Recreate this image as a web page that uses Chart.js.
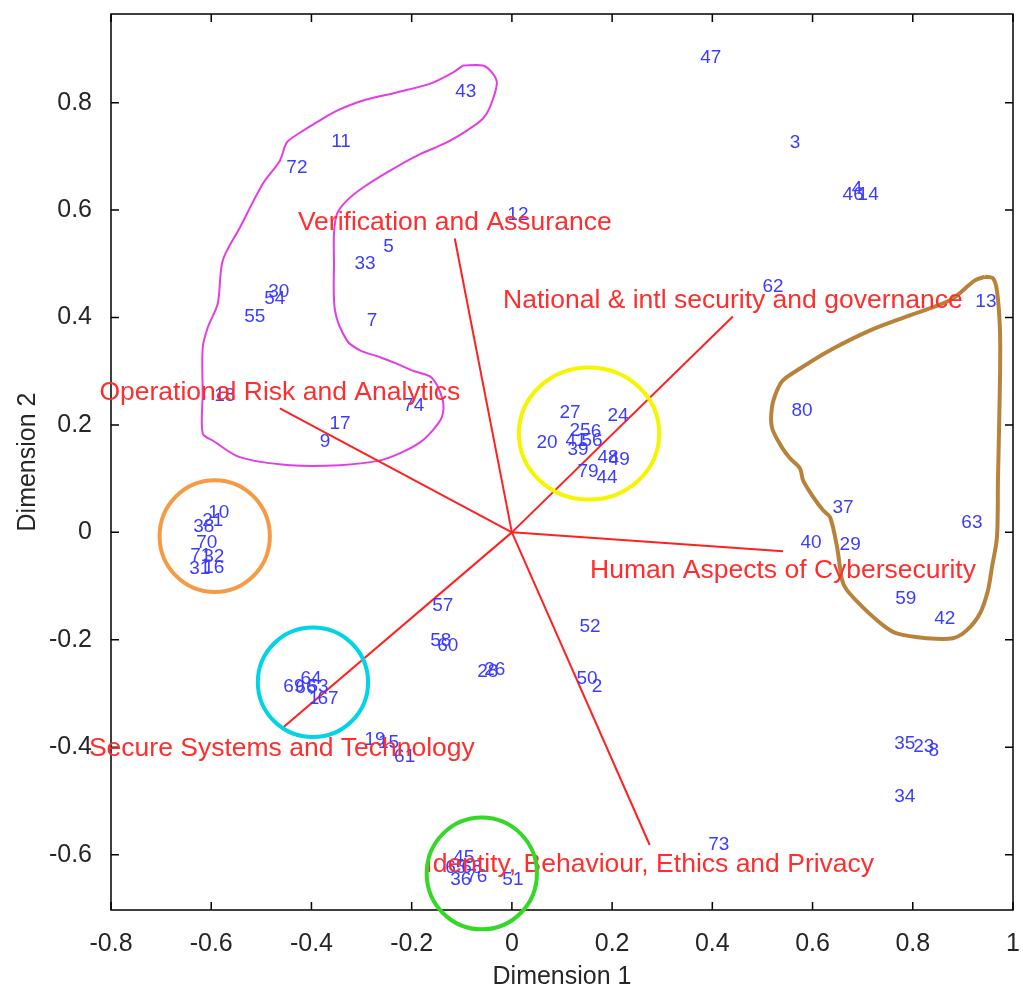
<!DOCTYPE html>
<html>
<head>
<meta charset="utf-8">
<script src="https://cdn.jsdelivr.net/npm/chart.js@4.4.1/dist/chart.umd.min.js"></script>
<style>
  html, body { margin: 0; padding: 0; background: #fff; }
  canvas { display: block; }
</style>
</head>
<body>
<canvas id="biplot" width="1023" height="992"></canvas>
<script>
// Observation scores (label, dimension 1, dimension 2)
const obsLabels = [
  "47", "3", "4", "46", "14",
  "43", "11", "72", "12", "5",
  "33", "62", "13", "30", "54",
  "55", "7", "18", "74", "17",
  "9", "27", "24", "20", "25",
  "6", "41", "56", "39", "48",
  "49", "79", "44", "10", "21",
  "38", "70", "71", "32", "31",
  "16", "80", "37", "63", "40",
  "29", "59", "42", "57", "58",
  "60", "28", "26", "52", "50",
  "2", "64", "69", "66", "53",
  "1", "67", "19", "15", "61",
  "35", "23", "8", "34", "73",
  "45", "65", "68", "36", "76",
  "51"
];
const obsDim1 = [
  0.397, 0.565, 0.689, 0.681, 0.711,
  -0.092, -0.341, -0.429, 0.012, -0.246,
  -0.293, 0.521, 0.946, -0.465, -0.473,
  -0.513, -0.279, -0.573, -0.196, -0.343,
  -0.373, 0.116, 0.212, 0.070, 0.136,
  0.168, 0.128, 0.160, 0.132, 0.192,
  0.214, 0.152, 0.190, -0.585, -0.597,
  -0.615, -0.609, -0.621, -0.595, -0.623,
  -0.595, 0.579, 0.661, 0.918, 0.597,
  0.675, 0.786, 0.864, -0.138, -0.142,
  -0.128, -0.048, -0.034, 0.156, 0.150,
  0.170, -0.401, -0.435, -0.411, -0.387,
  -0.395, -0.367, -0.273, -0.246, -0.214,
  0.784, 0.822, 0.842, 0.784, 0.413,
  -0.096, -0.112, -0.080, -0.102, -0.070,
  0.002
];
const obsDim2 = [
  0.884, 0.726, 0.640, 0.629, 0.629,
  0.820, 0.727, 0.679, 0.592, 0.532,
  0.500, 0.458, 0.430, 0.448, 0.435,
  0.402, 0.394, 0.255, 0.236, 0.203,
  0.169, 0.223, 0.218, 0.167, 0.190,
  0.188, 0.171, 0.171, 0.153, 0.138,
  0.136, 0.112, 0.102, 0.037, 0.022,
  0.011, -0.020, -0.043, -0.045, -0.067,
  -0.065, 0.227, 0.045, 0.017, -0.019,
  -0.024, -0.123, -0.160, -0.136, -0.201,
  -0.212, -0.259, -0.255, -0.175, -0.272,
  -0.287, -0.272, -0.288, -0.290, -0.288,
  -0.309, -0.309, -0.387, -0.391, -0.417,
  -0.393, -0.400, -0.407, -0.493, -0.582,
  -0.605, -0.625, -0.625, -0.646, -0.642,
  -0.647
];

// Variable loadings (vectors from the origin)
const varNames = [
  "Verification and Assurance",
  "National & intl security and governance",
  "Operational Risk and Analytics",
  "Human Aspects of Cybersecurity",
  "Secure Systems and Technology",
  "Identity, Behaviour, Ethics and Privacy"
];
const varDim1 = [-0.114, 0.441, -0.463, 0.541, -0.459, 0.275];
const varDim2 = [0.547, 0.402, 0.231, -0.035, -0.365, -0.582];

// Axis ticks
const xTicks = [-0.8, -0.6, -0.4, -0.2, 0, 0.2, 0.4, 0.6, 0.8, 1];
const yTicks = [-0.6, -0.4, -0.2, 0, 0.2, 0.4, 0.6, 0.8];

// Hand-drawn cluster outlines (data units)
const magentaX = [-0.098, -0.058, -0.038, -0.030, -0.044, -0.058, -0.090, -0.130, -0.190, -0.244,
  -0.297, -0.329, -0.349, -0.355, -0.355, -0.353, -0.329, -0.303, -0.263, -0.230,
  -0.198, -0.160, -0.138, -0.140, -0.158, -0.184, -0.224, -0.263, -0.343, -0.443,
  -0.543, -0.597, -0.617, -0.617, -0.617, -0.607, -0.587, -0.577, -0.543, -0.497,
  -0.463, -0.449, -0.423, -0.383, -0.349, -0.297, -0.230, -0.164, -0.118, -0.098];
const magentaY = [0.869, 0.869, 0.854, 0.835, 0.791, 0.770, 0.748, 0.726, 0.701, 0.673,
  0.642, 0.618, 0.593, 0.556, 0.506, 0.413, 0.357, 0.339, 0.326, 0.314,
  0.301, 0.288, 0.246, 0.214, 0.190, 0.167, 0.147, 0.134, 0.125, 0.125,
  0.140, 0.171, 0.184, 0.259, 0.344, 0.381, 0.426, 0.506, 0.567, 0.649,
  0.692, 0.726, 0.744, 0.767, 0.785, 0.804, 0.819, 0.835, 0.856, 0.869];
const brownX = [0.944, 0.960, 0.968, 0.974, 0.974, 0.970, 0.968, 0.958, 0.950, 0.934,
  0.908, 0.880, 0.828, 0.768, 0.741, 0.701, 0.669, 0.659, 0.649, 0.635,
  0.621, 0.599, 0.581, 0.575, 0.555, 0.539, 0.519, 0.519, 0.529, 0.541,
  0.575, 0.635, 0.715, 0.794, 0.874, 0.924, 0.944];
const brownY = [0.476, 0.473, 0.450, 0.376, 0.283, 0.097, -0.009, -0.065, -0.108, -0.151,
  -0.182, -0.197, -0.197, -0.188, -0.173, -0.140, -0.108, -0.089, -0.028, 0.028,
  0.041, 0.069, 0.097, 0.119, 0.138, 0.158, 0.195, 0.233, 0.264, 0.283,
  0.305, 0.339, 0.376, 0.404, 0.432, 0.469, 0.476];

// Circled groups: centre and half-widths in data units
const circleX = [0.154, -0.593, -0.397, -0.060];
const circleY = [0.184, -0.007, -0.279, -0.635];
const circleRX = [0.140, 0.110, 0.110, 0.110];
const circleRY = [0.123, 0.104, 0.102, 0.104];

const FONT = '"Liberation Sans", Arial, Helvetica, sans-serif';
const circleColors = ["#f5f500", "#f79a45", "#00d4e6", "#34d928"];

const toPoints = (xs, ys) => xs.map((v, i) => ({ x: v, y: ys[i] }));

const datasets = [
  {
    label: "observations",
    data: toPoints(obsDim1, obsDim2),
    pointRadius: 0,
    showLine: false
  }
];
varNames.forEach((name, i) => {
  datasets.push({
    label: name,
    data: [{ x: 0, y: 0 }, { x: varDim1[i], y: varDim2[i] }],
    showLine: true,
    borderColor: "#ff2020",
    borderWidth: 2,
    pointRadius: 0
  });
});
datasets.push({
  label: "magenta group",
  data: toPoints(magentaX, magentaY),
  showLine: true,
  borderColor: "#e23ee2",
  borderWidth: 2,
  tension: 0.3,
  pointRadius: 0
});
datasets.push({
  label: "brown group",
  data: toPoints(brownX, brownY),
  showLine: true,
  borderColor: "#b9823a",
  borderWidth: 4,
  tension: 0.3,
  pointRadius: 0
});

const biplotDecor = {
  id: "biplotDecor",
  afterDatasetsDraw(chart) {
    const { ctx, chartArea: a, scales: { x, y } } = chart;
    ctx.save();

    // box with inward ticks on all sides
    ctx.strokeStyle = "#000";
    ctx.lineWidth = 1.5;
    ctx.strokeRect(a.left, a.top, a.right - a.left, a.bottom - a.top);
    ctx.beginPath();
    xTicks.forEach((v) => {
      const px = x.getPixelForValue(v);
      ctx.moveTo(px, a.bottom); ctx.lineTo(px, a.bottom - 8);
      ctx.moveTo(px, a.top); ctx.lineTo(px, a.top + 8);
    });
    yTicks.forEach((v) => {
      const py = y.getPixelForValue(v);
      ctx.moveTo(a.left, py); ctx.lineTo(a.left + 8, py);
      ctx.moveTo(a.right, py); ctx.lineTo(a.right - 8, py);
    });
    ctx.stroke();

    // observation numbers
    ctx.font = "19px " + FONT;
    ctx.fillStyle = "#3c3cff";
    ctx.textAlign = "center";
    ctx.textBaseline = "middle";
    chart.getDatasetMeta(0).data.forEach((pt, i) => {
      ctx.fillText(obsLabels[i], pt.x, pt.y);
    });

    // variable names at the tip of each vector
    ctx.font = "26.5px " + FONT;
    ctx.fillStyle = "#ff2e2e";
    varNames.forEach((name, i) => {
      const tip = chart.getDatasetMeta(i + 1).data[1];
      const dy = varDim2[i] >= 0 ? -16 : 20;
      ctx.fillText(name, tip.x, tip.y + dy);
    });
    ctx.restore();
  },
  afterDraw(chart) {
    const { ctx, scales: { x, y } } = chart;
    ctx.save();
    ctx.lineWidth = 4;
    circleX.forEach((cx, i) => {
      const px = x.getPixelForValue(cx);
      const py = y.getPixelForValue(circleY[i]);
      const rx = Math.abs(x.getPixelForValue(cx + circleRX[i]) - px);
      const ry = Math.abs(y.getPixelForValue(circleY[i] + circleRY[i]) - py);
      ctx.strokeStyle = circleColors[i];
      ctx.beginPath();
      ctx.ellipse(px, py, rx, ry, 0, 0, Math.PI * 2);
      ctx.stroke();
    });
    ctx.restore();
  }
};

const fmt = (v) => String(Number(Number(v).toFixed(1)));

// drop the automatic label overhang so the plot box sits where the reference has it
const noOverhang = (s) => {
  s.paddingTop = 0; s.paddingBottom = 0; s.paddingLeft = 0; s.paddingRight = 0;
};

new Chart(document.getElementById("biplot"), {
  type: "scatter",
  data: { datasets },
  options: {
    responsive: false,
    animation: false,
    devicePixelRatio: 1,
    events: [],
    layout: { padding: { left: 0, right: 10, top: 14, bottom: 0 } },
    plugins: { legend: { display: false }, tooltip: { enabled: false } },
    scales: {
      x: {
        type: "linear",
        min: -0.8,
        max: 1,
        afterBuildTicks: (s) => { s.ticks = xTicks.map((v) => ({ value: v })); },
        afterFit: (s) => { s.height = 82; noOverhang(s); },
        grid: { display: false, drawTicks: false },
        border: { display: false },
        ticks: { color: "#262626", font: { family: FONT, size: 25 }, padding: 19, callback: fmt, maxRotation: 0, autoSkip: false },
        title: { display: true, text: "Dimension 1", color: "#262626", font: { family: FONT, size: 25 }, padding: { top: 0, bottom: 0 } }
      },
      y: {
        type: "linear",
        min: -0.703,
        max: 0.965,
        afterBuildTicks: (s) => { s.ticks = yTicks.map((v) => ({ value: v })); },
        afterFit: (s) => { s.width = 111; noOverhang(s); },
        grid: { display: false, drawTicks: false },
        border: { display: false },
        ticks: { color: "#262626", font: { family: FONT, size: 25 }, padding: 19, callback: fmt, autoSkip: false },
        title: { display: true, text: "Dimension 2", color: "#262626", font: { family: FONT, size: 25 }, padding: { top: 13, bottom: 0 } }
      }
    }
  },
  plugins: [biplotDecor]
});
</script>
</body>
</html>
